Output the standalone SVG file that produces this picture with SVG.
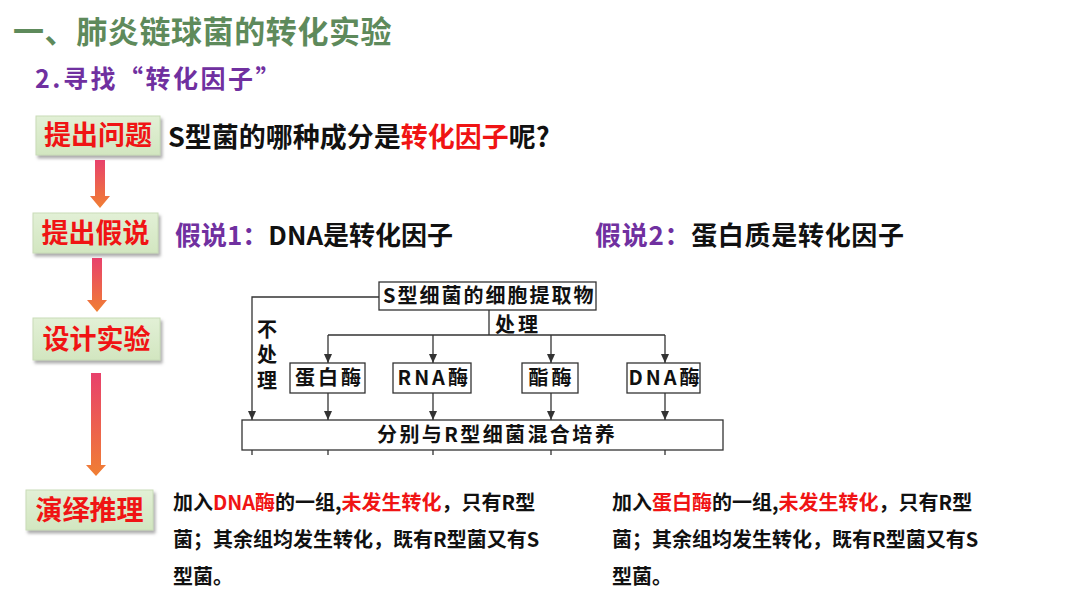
<svg xmlns="http://www.w3.org/2000/svg" width="1080" height="608" viewBox="0 0 1080 608">
<defs>
<style>
text{font-family:"Noto Sans CJK SC","Noto Sans CJK JP",sans-serif;font-weight:bold}
.title{font-size:31px;fill:#5e8a5b;letter-spacing:0.6px}
.sub{font-size:25px;fill:#7030a0;letter-spacing:2.5px}
.lbl{font-size:27px;fill:#f01414;text-anchor:middle}
.lbox{fill:url(#gbox);stroke:#c9dcb8;stroke-width:1;filter:url(#shadow)}
.big{font-size:27px;fill:#111}
.pur{fill:#7030a0}
.red{fill:#f01414}
.para{font-size:20px;fill:#111}
.dg{font-size:20px;fill:#111;letter-spacing:3px}
.box{fill:#fff;stroke:#333;stroke-width:1.3}
.ln{fill:none;stroke:#333;stroke-width:1.3}
.arr{fill:url(#garr)}
</style>
<linearGradient id="gbox" x1="0" y1="0" x2="0" y2="1">
<stop offset="0" stop-color="#e2f0d6"/>
<stop offset="1" stop-color="#d2e6c0"/>
</linearGradient>
<linearGradient id="garr" x1="0" y1="0" x2="0" y2="1">
<stop offset="0" stop-color="#e8416c"/>
<stop offset="1" stop-color="#f07f33"/>
</linearGradient>
<filter id="shadow" x="-10%" y="-10%" width="130%" height="140%">
<feDropShadow dx="2" dy="3" stdDeviation="1.5" flood-color="#777" flood-opacity="0.6"/>
</filter>
<marker id="ah" markerWidth="9" markerHeight="8" refX="9" refY="4" orient="auto" markerUnits="userSpaceOnUse" viewBox="0 0 9 8">
<path d="M0,0 L9,4 L0,8 Z" fill="#333"/>
</marker>
</defs>

<rect width="1080" height="608" fill="#fff"/>

<g id="title">
<text class="title" x="13" y="43">一、肺炎链球菌的转化实验</text>
<text class="sub" x="35" y="88">2.寻找“转化因子”</text>
</g>

<g id="step1">
<rect class="lbox" x="36" y="116" width="124" height="39"/>
<text class="lbl" x="98" y="145">提出问题</text>
</g>
<g id="step2">
<rect class="lbox" x="33" y="213" width="125" height="40"/>
<text class="lbl" x="95.5" y="243">提出假说</text>
</g>
<g id="step3">
<rect class="lbox" x="33" y="318" width="127" height="42"/>
<text class="lbl" x="96.5" y="349">设计实验</text>
</g>
<g id="step4">
<rect class="lbox" x="26" y="490" width="127" height="40"/>
<text class="lbl" x="89.5" y="520">演绎推理</text>
</g>

<g id="flow-arrows">
<path class="arr" d="M95,160 H105 V196 H110 L100,208 L90,196 H95 Z"/>
<path class="arr" d="M92,258 H102 V300 H107 L97,312 L87,300 H92 Z"/>
<path class="arr" d="M91,373 H101 V465 H106 L96,476 L86,465 H91 Z"/>
</g>

<g id="question">
<text class="big" x="168" y="147">S型菌的哪种成分是<tspan class="red">转化因子</tspan>呢?</text>
</g>
<g id="hyp1">
<text class="big" x="175" y="245" style="font-size:26px"><tspan class="pur">假说1：</tspan>DNA是转化因子</text>
</g>
<g id="hyp2">
<text class="big" x="595" y="245" style="font-size:26px;letter-spacing:0.7px"><tspan class="pur">假说2：</tspan>蛋白质是转化因子</text>
</g>

<g id="connectors">
<path class="ln" d="M379,297 H252 V420" marker-end="url(#ah)"/>
<path class="ln" d="M489,310 V335 M328,335 H665"/>
<path class="ln" d="M328,335 V363" marker-end="url(#ah)"/>
<path class="ln" d="M433,335 V363" marker-end="url(#ah)"/>
<path class="ln" d="M551,335 V363" marker-end="url(#ah)"/>
<path class="ln" d="M665,335 V363" marker-end="url(#ah)"/>
<path class="ln" d="M328,393 V420" marker-end="url(#ah)"/>
<path class="ln" d="M433,393 V420" marker-end="url(#ah)"/>
<path class="ln" d="M551,393 V420" marker-end="url(#ah)"/>
<path class="ln" d="M665,393 V420" marker-end="url(#ah)"/>
<path class="ln" d="M252,450 V455 M328,450 V455 M433,450 V455 M551,450 V455 M665,450 V455"/>
</g>

<g id="extract">
<rect class="box" x="379" y="282" width="217" height="28"/>
<text class="dg" x="383" y="303" style="letter-spacing:2px">S型细菌的细胞提取物</text>
</g>
<g id="label-treat">
<text class="dg" x="495" y="332">处理</text>
</g>
<g id="label-notreat">
<text class="dg" x="267" y="319" writing-mode="vertical-rl" style="writing-mode:vertical-rl;letter-spacing:5.5px">不处理</text>
</g>
<g id="prot">
<rect class="box" x="290" y="363" width="75" height="30"/>
<text class="dg" x="295" y="385">蛋白酶</text>
</g>
<g id="rna">
<rect class="box" x="393" y="363" width="78" height="30"/>
<text class="dg" x="397.5" y="385">RNA酶</text>
</g>
<g id="lip">
<rect class="box" x="522" y="363" width="56" height="30"/>
<text class="dg" x="528.5" y="385">酯酶</text>
</g>
<g id="dna">
<rect class="box" x="627" y="363" width="73" height="30"/>
<text class="dg" x="628.5" y="385">DNA酶</text>
</g>
<g id="mix">
<rect class="box" x="242" y="420" width="481" height="30"/>
<text class="dg" x="377" y="442" style="letter-spacing:2.4px">分别与R型细菌混合培养</text>
</g>

<g id="deduce-left">
<text class="para" x="173" y="510">加入<tspan class="red">DNA酶</tspan>的一组,<tspan class="red">未发生转化</tspan>，只有R型</text>
<text class="para" x="173" y="547">菌；其余组均发生转化，既有R型菌又有S</text>
<text class="para" x="173" y="584">型菌。</text>
</g>
<g id="deduce-right">
<text class="para" x="612" y="510">加入<tspan class="red">蛋白酶</tspan>的一组,<tspan class="red">未发生转化</tspan>，只有R型</text>
<text class="para" x="612" y="547">菌；其余组均发生转化，既有R型菌又有S</text>
<text class="para" x="612" y="584">型菌。</text>
</g>
</svg>
